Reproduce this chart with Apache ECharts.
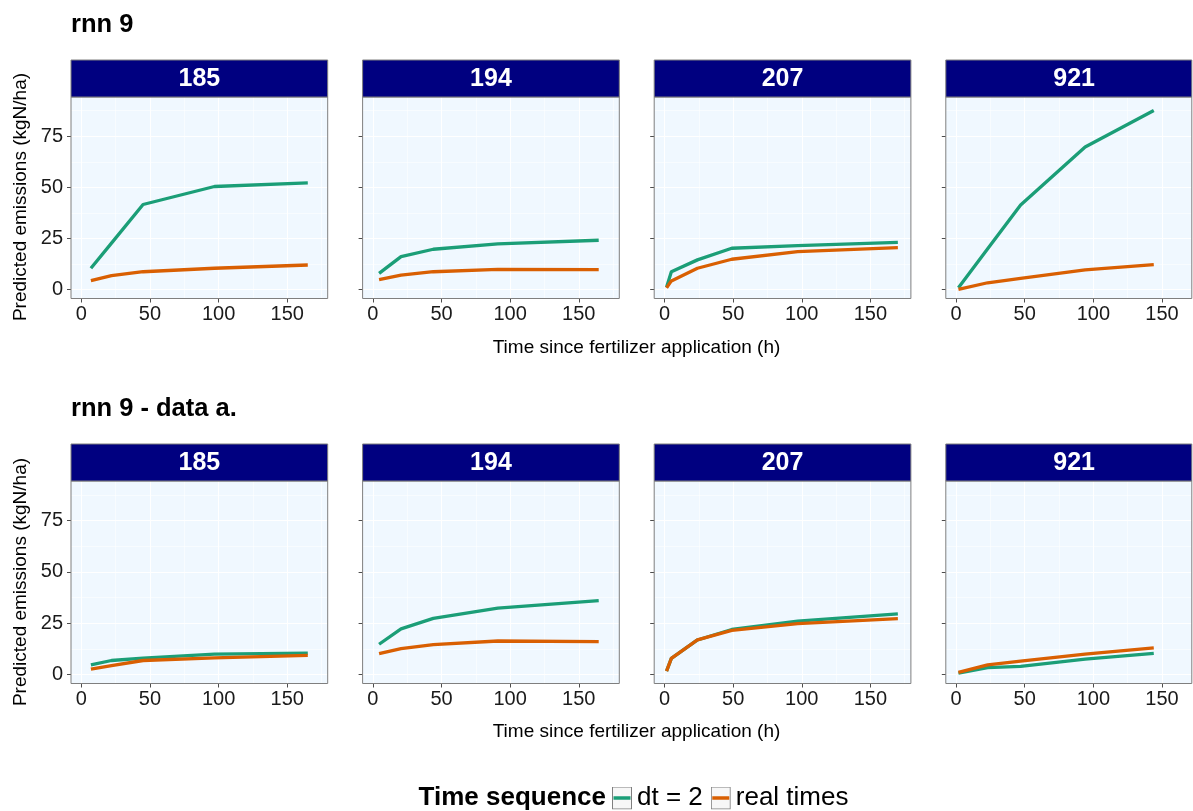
<!DOCTYPE html>
<html>
<head>
<meta charset="utf-8">
<script src="https://cdn.jsdelivr.net/npm/echarts@6/dist/echarts.min.js"></script>
<style>
  html, body { margin: 0; padding: 0; background: #ffffff; }
  #chart { width: 1193px; height: 811px; }
</style>
</head>
<body>
<div id="chart"></div>
<script>
// ---- data -------------------------------------------------------------
const facetLabels = ['185', '194', '207', '921'];
const rowTitles = ['rnn 9', 'rnn 9 - data a.'];
const seriesNames = ['dt = 2', 'real times'];
const xTicks = [0, 50, 100, 150];
const xMinorTicks = [25, 75, 125, 175];
const yTicks = [0, 25, 50, 75];
const yMinorTicks = [12.5, 37.5, 62.5, 87.5];

// sampling times (h) per site
const time185 = [7, 22, 45, 97, 165];
const time194 = [4.5, 20.5, 44, 91, 164.5];
const time207 = [1.5, 5, 24, 49, 97, 170];
const time921 = [1.7, 23, 47, 94, 144];

// rnn 9
const rnn9Dt2_185  = [10.4, 22.7, 41.6, 50.4, 52.2];
const rnn9Real_185 = [4.3, 6.8, 8.7, 10.4, 12.0];
const rnn9Dt2_194  = [7.9, 16.1, 19.7, 22.3, 24.1];
const rnn9Real_194 = [4.8, 7.0, 8.7, 9.9, 9.7];
const rnn9Dt2_207  = [1.1, 8.7, 14.5, 20.2, 21.5, 23.1];
const rnn9Real_207 = [0.8, 4.2, 10.4, 14.8, 18.5, 20.5];
const rnn9Dt2_921  = [0.9, 19.9, 41.4, 69.7, 87.6];
const rnn9Real_921 = [0.1, 3.3, 5.5, 9.6, 12.2];

// rnn 9 - data a.
const rnn9aDt2_185  = [4.7, 6.8, 8.0, 9.9, 10.4];
const rnn9aReal_185 = [2.6, 4.3, 6.8, 8.1, 9.3];
const rnn9aDt2_194  = [14.7, 22.2, 27.3, 32.3, 36.0];
const rnn9aReal_194 = [10.1, 12.6, 14.5, 16.3, 16.0];
const rnn9aDt2_207  = [1.6, 7.8, 16.8, 21.9, 26.0, 29.5];
const rnn9aReal_207 = [1.6, 7.8, 16.8, 21.5, 24.8, 27.2];
const rnn9aDt2_921  = [0.65, 3.3, 3.9, 7.5, 10.3];
const rnn9aReal_921 = [1.0, 4.7, 6.5, 9.9, 12.9];

// ---- layout & style -----------------------------------------------------
const FONT = '"Liberation Sans", Arial, Helvetica, sans-serif';
const COLORS = ['#1B9E77', '#D95F02'];
const PANEL_LEFT = [71, 362.6, 654.2, 945.8];
const PANEL_W = [256.7, 256.7, 256.7, 246];
const ROW_TOP = [97, 481];
const ROW_H = [201.5, 202.5];
const STRIP_H = 37;
const X_MIN = -7.5;
const PX_PER_X = 256.7 / 187;
const Y_MIN = -4.4, Y_MAX = 94.2;

const panels = [
  { row: 0, col: 0, t: time185, v: [rnn9Dt2_185, rnn9Real_185] },
  { row: 0, col: 1, t: time194, v: [rnn9Dt2_194, rnn9Real_194] },
  { row: 0, col: 2, t: time207, v: [rnn9Dt2_207, rnn9Real_207] },
  { row: 0, col: 3, t: time921, v: [rnn9Dt2_921, rnn9Real_921] },
  { row: 1, col: 0, t: time185, v: [rnn9aDt2_185, rnn9aReal_185] },
  { row: 1, col: 1, t: time194, v: [rnn9aDt2_194, rnn9aReal_194] },
  { row: 1, col: 2, t: time207, v: [rnn9aDt2_207, rnn9aReal_207] },
  { row: 1, col: 3, t: time921, v: [rnn9aDt2_921, rnn9aReal_921] }
];

const grids = [], xAxes = [], yAxes = [], series = [], graphics = [];

panels.forEach((p, i) => {
  const left = PANEL_LEFT[p.col], width = PANEL_W[p.col];
  const top = ROW_TOP[p.row], height = ROW_H[p.row];
  const xMax = X_MIN + width / PX_PER_X;

  grids.push({ left, top, width, height, show: true, backgroundColor: '#F0F8FF', borderWidth: 0 });

  const inX = v => v > X_MIN && v < xMax;
  const inY = v => v > Y_MIN && v < Y_MAX;

  // main x axis: ticks, labels, major grid lines
  xAxes.push({
    type: 'value', gridIndex: i, position: 'bottom', min: X_MIN, max: xMax,
    axisLine: { show: false, onZero: false },
    axisTick: { show: true, length: 4, inside: false, customValues: xTicks.filter(inX),
                lineStyle: { color: '#4d4d4d', width: 1 } },
    axisLabel: { show: true, customValues: xTicks.filter(inX), margin: 6,
                 fontSize: 20, color: '#1a1a1a', fontFamily: FONT },
    splitLine: { show: true, lineStyle: { color: '#ffffff', width: 1.1 } }
  });
  // minor x grid lines
  xAxes.push({
    type: 'value', gridIndex: i, position: 'top', min: X_MIN, max: xMax,
    axisLine: { show: false, onZero: false },
    axisTick: { show: false, customValues: xMinorTicks.filter(inX) },
    axisLabel: { show: false, customValues: xMinorTicks.filter(inX) },
    splitLine: { show: true, lineStyle: { color: '#ffffff', width: 0.55 } }
  });
  // main y axis
  yAxes.push({
    type: 'value', gridIndex: i, position: 'left', min: Y_MIN, max: Y_MAX,
    axisLine: { show: false, onZero: false },
    axisTick: { show: true, length: 4, inside: false, customValues: yTicks.filter(inY),
                lineStyle: { color: '#4d4d4d', width: 1 } },
    axisLabel: { show: p.col === 0, customValues: yTicks.filter(inY), margin: 8,
                 fontSize: 20, color: '#1a1a1a', fontFamily: FONT },
    splitLine: { show: true, lineStyle: { color: '#ffffff', width: 1.1 } }
  });
  // minor y grid lines
  yAxes.push({
    type: 'value', gridIndex: i, position: 'right', min: Y_MIN, max: Y_MAX,
    axisLine: { show: false, onZero: false },
    axisTick: { show: false, customValues: yMinorTicks.filter(inY) },
    axisLabel: { show: false, customValues: yMinorTicks.filter(inY) },
    splitLine: { show: true, lineStyle: { color: '#ffffff', width: 0.55 } }
  });

  p.v.forEach((vals, s) => {
    series.push({
      type: 'line', name: seriesNames[s],
      xAxisIndex: 2 * i, yAxisIndex: 2 * i,
      data: p.t.map((t, k) => [t, vals[k]]),
      symbol: 'none', showSymbol: false, silent: true,
      lineStyle: { color: COLORS[s], width: 3.3, join: 'round', cap: 'butt' },
      itemStyle: { color: COLORS[s] },
      z: 3 + s
    });
  });

  // panel frame
  graphics.push({
    type: 'rect', z: 50, silent: true,
    shape: { x: left, y: top, width, height },
    style: { fill: null, stroke: '#7f7f7f', lineWidth: 1 }
  });
  // facet strip
  graphics.push({
    type: 'rect', z: 50, silent: true,
    shape: { x: left, y: top - STRIP_H, width, height: STRIP_H },
    style: { fill: '#000080', stroke: '#7f7f7f', lineWidth: 1 }
  });
  graphics.push({
    type: 'text', z: 51, silent: true,
    x: left + width / 2 + (p.col === 3 ? 5.35 : 0), y: top - STRIP_H / 2 + 1,
    style: { text: facetLabels[p.col], fill: '#ffffff', font: 'bold 25px ' + FONT,
             textAlign: 'center', textVerticalAlign: 'middle' }
  });
});

// row titles, axis titles
const rowTitleY = [25, 409];
const xTitleY = [348, 732];
const yTitleY = [197, 582];
rowTitles.forEach((t, r) => {
  graphics.push({
    type: 'text', silent: true, x: 71, y: rowTitleY[r],
    style: { text: t, fill: '#000000', font: 'bold 25.5px ' + FONT,
             textAlign: 'left', textVerticalAlign: 'middle' }
  });
  graphics.push({
    type: 'text', silent: true, x: 636.5, y: xTitleY[r],
    style: { text: 'Time since fertilizer application (h)', fill: '#000000', font: '19px ' + FONT,
             textAlign: 'center', textVerticalAlign: 'middle' }
  });
  graphics.push({
    type: 'text', silent: true, x: 21, y: yTitleY[r], rotation: Math.PI / 2,
    style: { text: 'Predicted emissions (kgN/ha)', fill: '#000000', font: '19px ' + FONT,
             textAlign: 'center', textVerticalAlign: 'middle' }
  });
});

// legend title
graphics.push({
  type: 'text', silent: true, x: 606, y: 798,
  style: { text: 'Time sequence', fill: '#000000', font: 'bold 26px ' + FONT,
           textAlign: 'right', textVerticalAlign: 'middle' }
});

function keyIcon(color) {
  const svg = "<svg xmlns='http://www.w3.org/2000/svg' width='20' height='23'>" +
    "<rect x='0.5' y='0.5' width='19' height='22' fill='#f7f7f7' stroke='#7f7f7f' stroke-width='1'/>" +
    "<line x1='1.5' y1='11.5' x2='18.5' y2='11.5' stroke='" + color + "' stroke-width='3.3'/></svg>";
  return 'image://data:image/svg+xml;charset=utf-8,' + encodeURIComponent(svg);
}

const option = {
  animation: false,
  backgroundColor: '#ffffff',
  grid: grids,
  xAxis: xAxes,
  yAxis: yAxes,
  series: series,
  legend: {
    left: 612, top: 785, padding: 0,
    itemWidth: 20, itemHeight: 23, itemGap: 8,
    selectedMode: false,
    textStyle: { fontSize: 26, color: '#000000', fontFamily: FONT },
    data: seriesNames.map((n, s) => ({ name: n, icon: keyIcon(COLORS[s]) }))
  },
  graphic: graphics
};

const chart = echarts.init(document.getElementById('chart'), null, { renderer: 'canvas' });
chart.setOption(option);
</script>
</body>
</html>
